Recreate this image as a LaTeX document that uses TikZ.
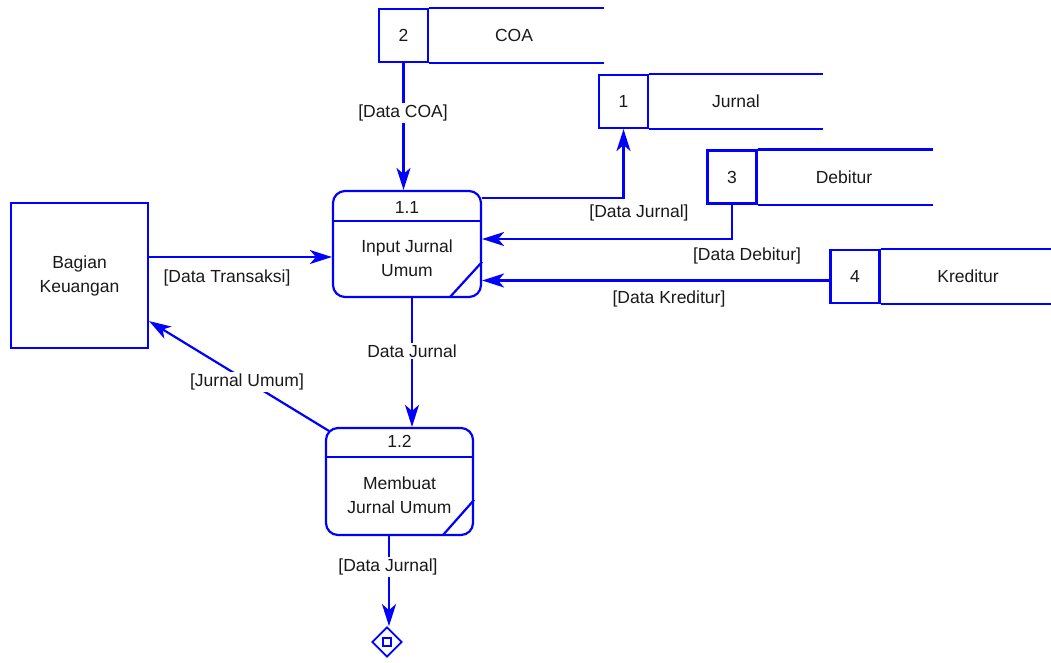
\documentclass[tikz,border=0pt]{standalone}
\usepackage{fontspec}
\setmainfont{Liberation Sans}
\usetikzlibrary{arrows.meta,shapes.geometric}
\definecolor{dfdblue}{RGB}{0,0,255}
\begin{document}
\begin{tikzpicture}[x=1pt,y=-1pt,
  font=\fontsize{17.5}{24}\selectfont,
  every node/.style={text=black!90,inner sep=1pt},
  line/.style={draw=dfdblue,line width=2.2pt},
  flow/.style={line,-{Stealth[length=22pt,width=14pt,inset=6pt]}},
  ent/.style={line,rectangle,minimum width=137pt,minimum height=145pt,align=center},
  proc/.style={line,rectangle,rounded corners=12pt,minimum width=148pt,minimum height=106pt},
  storenum/.style={line,rectangle,minimum width=49pt,minimum height=53pt},
  lbl/.style={fill=white,inner sep=1.5pt},
  txt/.style={align=center}
]
\useasboundingbox (0,0) rectangle (1051,662);

% external entity
\node[ent] (bk) at (79.5,275.5) {Bagian\\Keuangan};

% process 1.1
\node[proc] (p1) at (407,244) {};
\draw[line] ([yshift=-31pt]p1.north west) -- ([yshift=-31pt]p1.north east);
\draw[line] (450,297) -- (482,262);
\node (p1id) at (407,207) {1.1};
\node[txt] (p1t) at (407,258) {Input Jurnal\\Umum};

% process 1.2
\node[proc,minimum width=147pt,minimum height=107pt] (p2) at (399.5,481.5) {};
\draw[line] ([yshift=-30pt]p2.north west) -- ([yshift=-30pt]p2.north east);
\draw[line] (443,535) -- (474,500);
\node (p2id) at (399.5,441) {1.2};
\node[txt] (p2t) at (399.5,495) {Membuat\\Jurnal Umum};

% data stores
\node[storenum] (s2n) at (403.5,35.5) {2};
\draw[line] (s2n.north east) -- ++(175,0) coordinate (s2e1);
\draw[line] (s2n.south east) -- ++(175,0) coordinate (s2e2);
\node (s2t) at (514,35.5) {COA};

\node[storenum] (s1n) at (623.5,101.5) {1};
\draw[line] (s1n.north east) -- ++(174,0) coordinate (s1e1);
\draw[line] (s1n.south east) -- ++(174,0) coordinate (s1e2);
\node (s1t) at (736,101.5) {Jurnal};

\node[storenum] (s3n) at (732,177) {3};
\draw[line] (s3n.north east) -- ++(175,0) coordinate (s3e1);
\draw[line] (s3n.south east) -- ++(175,0) coordinate (s3e2);
\node (s3t) at (844,177) {Debitur};

\node[storenum] (s4n) at (855,276.5) {4};
\draw[line] (s4n.north east) -- ++(172,0) coordinate (s4e1);
\draw[line] (s4n.south east) -- ++(172,0) coordinate (s4e2);
\node (s4t) at (968,276.5) {Kreditur};

% terminator diamond
\node[line,diamond,minimum width=30pt,minimum height=30pt,inner sep=0pt,line width=1.8pt] (dm) at (387,642) {};
\node[line,rectangle,minimum width=8pt,minimum height=8pt,inner sep=0pt,line width=1.5pt] (sq) at (dm.center) {};

% flows
\draw[flow] (s2n.south) -- (s2n.south |- p1.north);
\node[lbl] (l1) at (403,113) {[Data COA]};

\draw[flow] ([yshift=46pt]p1.east) -| (s1n.south);
\node (l2) at (639,213) {[Data Jurnal]};

\draw[flow] (s3n.south) |- ([yshift=5pt]p1.east);
\node (l3) at (747,256) {[Data Debitur]};

\draw[flow] ([yshift=-4pt]s4n.west) -- ([yshift=-4pt]s4n.west -| p1.east);
\node (l4) at (669,299) {[Data Kreditur]};

\draw[flow] ([yshift=18.5pt]bk.east) -- ([yshift=18.5pt]bk.east -| p1.west);
\node (l5) at (227,278) {[Data Transaksi]};

\draw[flow] ([xshift=5pt]p1.south) -- ([xshift=5pt]p1.south |- p2.north);
\node[lbl] (l6) at (412,351) {Data Jurnal};

\draw[flow] ([shift={(4pt,-4pt)}]p2.north west) -- ([yshift=28pt]bk.south east);
\node[lbl] (l7) at (247,382) {[Jurnal Umum]};

\draw[flow] ([xshift=-10.5pt]p2.south) -- ([xshift=-10.5pt]p2.south |- dm.north);
\node[lbl] (l8) at (388,567) {[Data Jurnal]};
\end{tikzpicture}
\end{document}
